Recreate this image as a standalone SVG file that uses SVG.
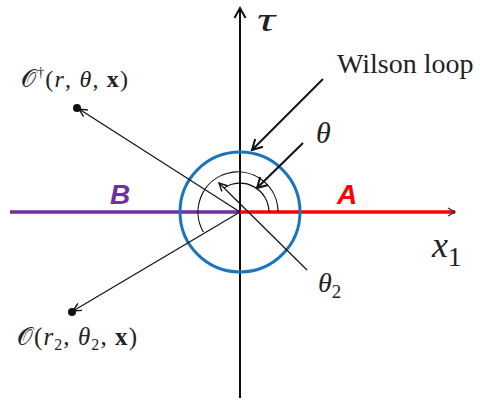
<svg xmlns="http://www.w3.org/2000/svg" width="480" height="401" viewBox="0 0 480 401">
<defs>
<style>
.m{font-family:"Liberation Serif","DejaVu Serif",serif;fill:#222}
.it{font-style:italic}
.lbl{font-family:"Liberation Sans",Arial,sans-serif;font-weight:bold;font-style:italic;font-size:28px}
.thin{stroke:#111;stroke-width:1.2;fill:none}
.thick{stroke:#111;stroke-width:2;fill:none}
</style>
<marker id="ah" viewBox="0 0 10 10" refX="9" refY="5" markerWidth="10" markerHeight="10" markerUnits="userSpaceOnUse" orient="auto">
<path d="M1,1 L9,5 L1,9" fill="none" stroke="#111" stroke-width="1.4"/>
</marker>
<marker id="ahb" viewBox="0 0 14 14" refX="12" refY="7" markerWidth="14" markerHeight="14" markerUnits="userSpaceOnUse" orient="auto">
<path d="M2,1.5 L12,7 L2,12.5" fill="none" stroke="#111" stroke-width="2"/>
</marker>
</defs>
<rect width="480" height="401" fill="#fff"/>
<g id="axes">
<line x1="240" y1="398" x2="240" y2="8" stroke="#111" stroke-width="2" marker-end="url(#ahb)"/>
<line x1="10" y1="212" x2="240" y2="212" stroke="#7030a0" stroke-width="3.5"/>
<line x1="240" y1="212" x2="455" y2="212" stroke="#ff0000" stroke-width="3.5"/>
<path d="M448,208 L455,212 L448,216" fill="none" stroke="#333" stroke-width="1.4"/>
</g>
<g id="wilson-loop">
<circle cx="240" cy="212" r="60" fill="none" stroke="#1b75bc" stroke-width="3"/>
</g>
<g id="connectors">
<path class="thin" d="M278,212 A40,40 0 1 0 203.4,232"/>
<path class="thin" d="M269,212 A29,29 0 0 0 224,188"/>
<line class="thin" x1="240" y1="212" x2="79" y2="109" marker-end="url(#ah)"/>
<line class="thin" x1="240" y1="212" x2="73" y2="311" marker-end="url(#ah)"/>
<line class="thin" x1="307" y1="270" x2="219" y2="183" stroke-width="1.5" marker-end="url(#ah)"/>
<line class="thick" x1="323" y1="79" x2="252" y2="150" marker-end="url(#ahb)"/>
<line class="thick" x1="303" y1="143" x2="257" y2="188" marker-end="url(#ahb)"/>
</g>
<g id="O-dagger">
<circle cx="77" cy="108" r="4" fill="#111"/>
<text class="m" x="21" y="87" font-size="24" textLength="107" lengthAdjust="spacing">𝒪<tspan font-size="14" dy="-10">†</tspan><tspan dy="10">(</tspan><tspan class="it">r</tspan>, <tspan class="it">θ</tspan>, <tspan font-weight="bold">x</tspan>)</text>
</g>
<g id="O">
<circle cx="72" cy="312" r="4" fill="#111"/>
<text class="m" x="17" y="345" font-size="25" textLength="120" lengthAdjust="spacing">𝒪(<tspan class="it">r</tspan><tspan font-size="16" dy="5">2</tspan><tspan dy="-5">, </tspan><tspan class="it">θ</tspan><tspan font-size="16" dy="5">2</tspan><tspan dy="-5">, </tspan><tspan font-weight="bold">x</tspan>)</text>
</g>
<g id="labels">
<text class="m it" x="0" y="0" font-size="34" transform="translate(257,31) scale(1.5,1)">τ</text>
<text class="m" x="337" y="73" font-size="28">Wilson loop</text>
<text class="m it" x="316" y="143" font-size="30">θ</text>
<text class="m" x="318" y="292" font-size="28"><tspan class="it">θ</tspan><tspan font-size="19" dy="6">2</tspan></text>
<text class="m" x="432" y="257" font-size="36"><tspan class="it">x</tspan><tspan font-size="27" dy="9">1</tspan></text>
<text class="lbl" x="110" y="204" fill="#7030a0">B</text>
<text class="lbl" x="337" y="204" fill="#ff0000">A</text>
</g>
</svg>
